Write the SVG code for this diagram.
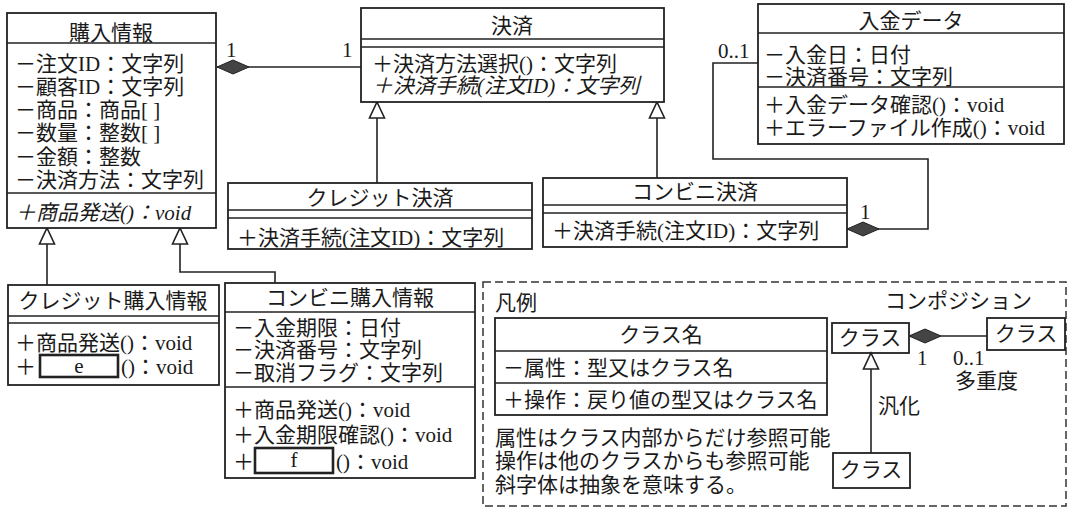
<svg xmlns="http://www.w3.org/2000/svg" width="1069" height="508" viewBox="0 0 1069 508">
<style>
.box{fill:#fff;stroke:#222;stroke-width:1.8}
.sep{stroke:#222;stroke-width:1.5;fill:none}
.t{font-family:"Liberation Serif","Noto Sans CJK JP",serif;font-size:21px;fill:#1a1a1a}
.c{text-anchor:middle}
.i{font-style:italic}
.blank{fill:#fff;stroke:#222;stroke-width:2.6}
.conn{fill:none;stroke:#222;stroke-width:1.6}
.dash{fill:none;stroke:#333;stroke-width:1.5;stroke-dasharray:8 4}
</style>
<defs>
<marker id="diamond" markerUnits="userSpaceOnUse" viewBox="-1 -9 36 18" markerWidth="36" markerHeight="18" refX="0" refY="0" orient="auto">
<path d="M0,0 L16,-7 L32,0 L16,7 Z" fill="#444" stroke="#222" stroke-width="1"/>
</marker>
<marker id="tri" markerUnits="userSpaceOnUse" viewBox="-2 -10 20 20" markerWidth="20" markerHeight="20" refX="0" refY="0" orient="auto">
<path d="M0,0 L16,-7.5 L16,7.5 Z" fill="#fff" stroke="#222" stroke-width="1.6"/>
</marker>
</defs>
<rect width="1069" height="508" fill="#fff"/>

<g id="connectors">
<path class="conn" d="M217,67 L361,67" marker-start="url(#diamond)"/>
<path class="conn" d="M377,102 L377,183" marker-start="url(#tri)"/>
<path class="conn" d="M657,102 L657,178" marker-start="url(#tri)"/>
<path class="conn" d="M847,229 L928,229 L928,159 L713,159 L713,63 L758,63" marker-start="url(#diamond)"/>
<path class="conn" d="M47,228 L47,285" marker-start="url(#tri)"/>
<path class="conn" d="M180,228 L180,272 L275,272 L275,283" marker-start="url(#tri)"/>
<text class="t" x="226" y="57">1</text>
<text class="t" x="342" y="57">1</text>
<text class="t" x="718" y="58">0..1</text>
<text class="t" x="860" y="219">1</text>
</g>

<g id="kounyu">
<rect class="box" x="7" y="13" width="209" height="215"/>
<line class="sep" x1="7" y1="43" x2="216" y2="43"/>
<line class="sep" x1="7" y1="193" x2="216" y2="193"/>
<text class="t c" x="111" y="40">購入情報</text>
<text class="t" x="15" y="71">－注文ID：文字列</text>
<text class="t" x="15" y="94">－顧客ID：文字列</text>
<text class="t" x="15" y="117">－商品：商品[ ]</text>
<text class="t" x="15" y="140">－数量：整数[ ]</text>
<text class="t" x="15" y="164">－金額：整数</text>
<text class="t" x="15" y="187">－決済方法：文字列</text>
<text class="t i" x="15" y="220">＋商品発送()：void</text>
</g>

<g id="kessai">
<rect class="box" x="361" y="8" width="303" height="94"/>
<line class="sep" x1="361" y1="39" x2="664" y2="39"/>
<line class="sep" x1="361" y1="47" x2="664" y2="47"/>
<text class="t c" x="512" y="33">決済</text>
<text class="t" x="372" y="71">＋決済方法選択()：文字列</text>
<text class="t i" x="372" y="93">＋決済手続(注文ID)：文字列</text>
</g>

<g id="credit-kessai">
<rect class="box" x="228" y="183" width="304" height="66"/>
<line class="sep" x1="228" y1="210" x2="532" y2="210"/>
<line class="sep" x1="228" y1="218" x2="532" y2="218"/>
<text class="t c" x="380" y="205">クレジット決済</text>
<text class="t" x="237" y="245">＋決済手続(注文ID)：文字列</text>
</g>

<g id="conveni-kessai">
<rect class="box" x="543" y="178" width="304" height="69"/>
<line class="sep" x1="543" y1="205" x2="847" y2="205"/>
<line class="sep" x1="543" y1="213" x2="847" y2="213"/>
<text class="t c" x="695" y="199">コンビニ決済</text>
<text class="t" x="552" y="238">＋決済手続(注文ID)：文字列</text>
</g>

<g id="nyukin">
<rect class="box" x="758" y="4" width="306" height="140"/>
<line class="sep" x1="758" y1="33" x2="1064" y2="33"/>
<line class="sep" x1="758" y1="87" x2="1064" y2="87"/>
<text class="t c" x="911" y="28">入金データ</text>
<text class="t" x="764" y="62">－入金日：日付</text>
<text class="t" x="764" y="84">－決済番号：文字列</text>
<text class="t" x="764" y="112">＋入金データ確認()：void</text>
<text class="t" x="764" y="135">＋エラーファイル作成()：void</text>
</g>

<g id="credit-kounyu">
<rect class="box" x="8" y="285" width="211" height="100"/>
<line class="sep" x1="8" y1="316" x2="219" y2="316"/>
<line class="sep" x1="8" y1="323" x2="219" y2="323"/>
<text class="t c" x="113" y="308">クレジット購入情報</text>
<text class="t" x="15" y="350">＋商品発送()：void</text>
<text class="t" x="15" y="374">＋</text>
<rect class="blank" x="40" y="355" width="78" height="22"/>
<text class="t c" x="79" y="373">e</text>
<text class="t" x="121" y="374">()：void</text>
</g>

<g id="conveni-kounyu">
<rect class="box" x="225" y="283" width="250" height="195"/>
<line class="sep" x1="225" y1="312" x2="475" y2="312"/>
<line class="sep" x1="225" y1="387" x2="475" y2="387"/>
<text class="t c" x="350" y="305">コンビニ購入情報</text>
<text class="t" x="233" y="335">－入金期限：日付</text>
<text class="t" x="233" y="357">－決済番号：文字列</text>
<text class="t" x="233" y="380">－取消フラグ：文字列</text>
<text class="t" x="233" y="417">＋商品発送()：void</text>
<text class="t" x="233" y="442">＋入金期限確認()：void</text>
<text class="t" x="233" y="469">＋</text>
<rect class="blank" x="255" y="448" width="78" height="25"/>
<text class="t c" x="294" y="467">f</text>
<text class="t" x="336" y="469">()：void</text>
</g>

<g id="legend">
<rect class="dash" x="483" y="282" width="583" height="224"/>
<text class="t" x="495" y="310">凡例</text>
<rect class="box" x="495" y="318" width="332" height="97"/>
<line class="sep" x1="495" y1="351" x2="827" y2="351"/>
<line class="sep" x1="495" y1="383" x2="827" y2="383"/>
<text class="t c" x="661" y="342">クラス名</text>
<text class="t" x="503" y="375">－属性：型又はクラス名</text>
<text class="t" x="503" y="407">＋操作：戻り値の型又はクラス名</text>
<text class="t" x="495" y="445">属性はクラス内部からだけ参照可能</text>
<text class="t" x="495" y="468">操作は他のクラスからも参照可能</text>
<text class="t" x="495" y="492">斜字体は抽象を意味する。</text>
<text class="t" x="885" y="308">コンポジション</text>
<rect class="box" x="832" y="323" width="77" height="30"/>
<text class="t c" x="870" y="345">クラス</text>
<rect class="box" x="987" y="318" width="78" height="32"/>
<text class="t c" x="1026" y="341">クラス</text>
<rect class="box" x="833" y="453" width="77" height="35"/>
<text class="t c" x="871" y="477">クラス</text>
<path class="conn" d="M909,336 L987,336" marker-start="url(#diamond)"/>
<path class="conn" d="M871,353 L871,453" marker-start="url(#tri)"/>
<text class="t" x="917" y="365">1</text>
<text class="t" x="953" y="365">0..1</text>
<text class="t" x="955" y="388">多重度</text>
<text class="t" x="878" y="413">汎化</text>
</g>
</svg>
